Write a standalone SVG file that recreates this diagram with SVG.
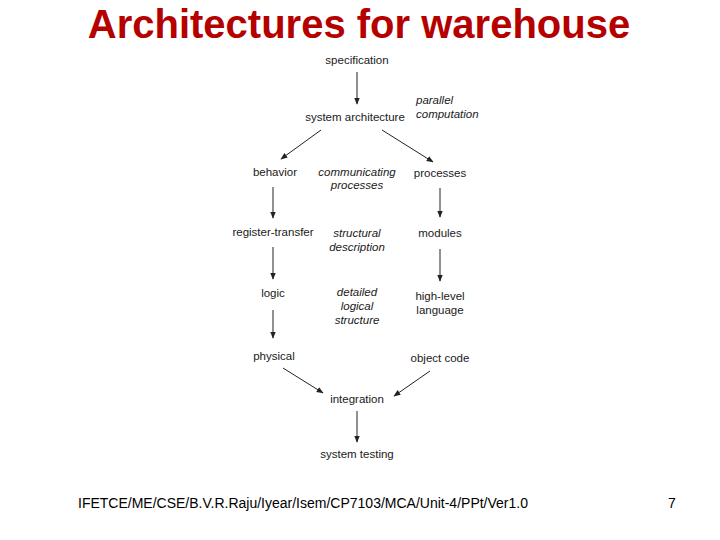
<svg xmlns="http://www.w3.org/2000/svg" width="720" height="540" viewBox="0 0 720 540">
  <style>
    .t { font-family: "Liberation Sans", Arial, sans-serif; font-size: 11.5px; fill: #1a1a1a; text-anchor: middle; }
    .i { font-style: italic; }
    .s { text-anchor: start; }
    .title { font-family: "Liberation Sans", Arial, sans-serif; font-size: 40px; font-weight: bold; fill: #B50000; text-anchor: middle; }
    .foot { font-family: "Liberation Sans", Arial, sans-serif; font-size: 14px; fill: #000; }
    .c line { stroke: #222; stroke-width: 1; marker-end: url(#ah); }
  </style>
  <defs>
    <marker id="ah" viewBox="0 0 10 10" refX="9" refY="5" markerWidth="7" markerHeight="7" orient="auto" markerUnits="userSpaceOnUse">
      <path d="M0,1 L10,5 L0,9 z" fill="#222"/>
    </marker>
  </defs>
  <rect width="720" height="540" fill="#fff"/>
  <text class="title" x="359" y="38">Architectures for warehouse</text>

  <g id="specification"><text class="t" x="357" y="64">specification</text></g>
  <g id="system-architecture"><text class="t" x="355" y="121">system architecture</text></g>
  <g id="parallel-computation"><text class="t i s" x="416" y="104">parallel</text><text class="t i s" x="416" y="118">computation</text></g>
  <g id="behavior"><text class="t" x="275" y="176">behavior</text></g>
  <g id="communicating-processes"><text class="t i" x="357" y="176">communicating</text><text class="t i" x="357" y="189">processes</text></g>
  <g id="processes"><text class="t" x="440" y="177">processes</text></g>
  <g id="register-transfer"><text class="t" x="273" y="236">register-transfer</text></g>
  <g id="structural-description"><text class="t i" x="357" y="237">structural</text><text class="t i" x="357" y="251">description</text></g>
  <g id="modules"><text class="t" x="440" y="237">modules</text></g>
  <g id="logic"><text class="t" x="273" y="297">logic</text></g>
  <g id="detailed-logical-structure"><text class="t i" x="357" y="296">detailed</text><text class="t i" x="357" y="310">logical</text><text class="t i" x="357" y="324">structure</text></g>
  <g id="high-level-language"><text class="t" x="440" y="300">high-level</text><text class="t" x="440" y="314">language</text></g>
  <g id="physical"><text class="t" x="274" y="360">physical</text></g>
  <g id="object-code"><text class="t" x="440" y="362">object code</text></g>
  <g id="integration"><text class="t" x="357" y="403">integration</text></g>
  <g id="system-testing"><text class="t" x="357" y="458">system testing</text></g>

  <g id="connectors" class="c">
    <line x1="357" y1="72" x2="357" y2="104"/>
    <line x1="321" y1="130" x2="281" y2="159"/>
    <line x1="382" y1="130" x2="433" y2="162"/>
    <line x1="273" y1="187" x2="273" y2="218"/>
    <line x1="440" y1="188" x2="440" y2="217"/>
    <line x1="273" y1="247" x2="273" y2="279"/>
    <line x1="440" y1="249" x2="440" y2="281"/>
    <line x1="273" y1="310" x2="273" y2="338"/>
    <line x1="283" y1="368" x2="323" y2="393"/>
    <line x1="430" y1="371" x2="394" y2="396"/>
    <line x1="357" y1="411" x2="357" y2="442"/>
  </g>

  <text class="foot" x="78" y="508">IFETCE/ME/CSE/B.V.R.Raju/Iyear/Isem/CP7103/MCA/Unit-4/PPt/Ver1.0</text>
  <text class="foot" x="668" y="508">7</text>
</svg>
